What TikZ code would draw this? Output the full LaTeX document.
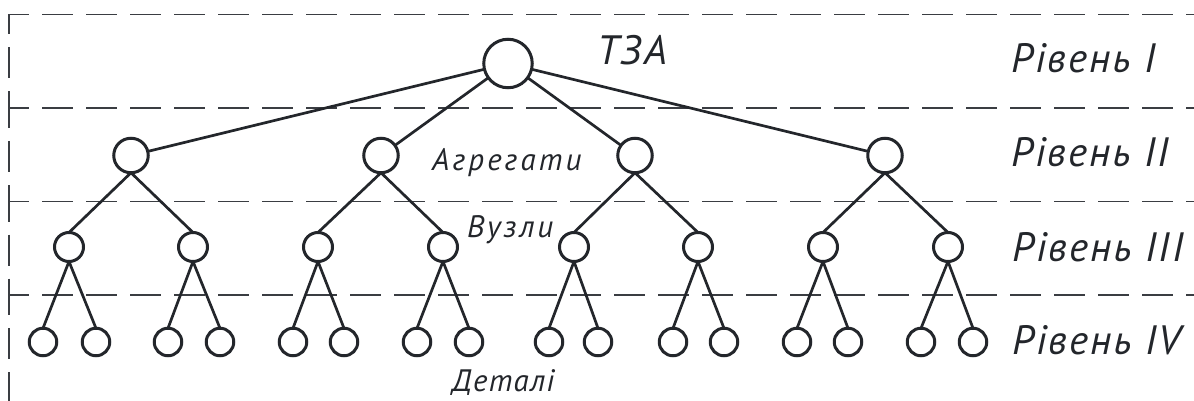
\documentclass[tikz,border=0pt]{standalone}
\usepackage{fontspec}
\setmainfont{PT Sans}
\definecolor{inkc}{HTML}{23262B}
\definecolor{gridc}{HTML}{3A3D42}
\begin{document}
\begin{tikzpicture}[x=1pt,y=-1pt,
  ring/.style={circle, draw=inkc, line width=3pt, inner sep=0pt, outer sep=0pt},
  cA/.style={ring, minimum size=48.5pt},
  cB/.style={ring, minimum size=34.5pt},
  cC/.style={ring, minimum size=29pt},
  cD/.style={ring, minimum size=27.5pt},
  edge/.style={draw=inkc, line width=2.7pt},
  gridline/.style={draw=gridc, line width=1.1pt, dash pattern=on 31pt off 13pt, dash phase=11pt},
  lvl/.style={font=\fontsize{41}{41}\selectfont\itshape\addfontfeatures{LetterSpace=5}, text=inkc, anchor=base west, inner sep=0pt},
  lab/.style={font=\fontsize{31}{31}\selectfont\itshape\addfontfeatures{LetterSpace=#1}, text=inkc, anchor=base west, inner sep=0pt}]
\useasboundingbox (0,0) rectangle (1194,401);
% grid
\foreach \yy in {14.5,108,201.5,295} {\draw[gridline] (9,\yy) -- (1194,\yy);}
\draw[gridline] (9,14.5) -- (9,108);
\draw[gridline] (9,108) -- (9,201.5);
\draw[gridline] (9,201.5) -- (9,295);
\draw[gridline] (9,295) -- (9,401);
% level 1
\node[cA] (a) at (508,63.5) {};
% level 2
\foreach \n/\x in {b1/131,b2/381,b3/635,b4/885} {
  \node[cB] (\n) at (\x,155.5) {};
  \draw[edge] (a) -- (\n);
}
% level 3
\foreach \n/\x/\pp in {c1/69/b1,c2/193/b1,c3/318/b2,c4/443/b2,c5/574/b3,c6/698/b3,c7/823/b4,c8/948/b4} {
  \node[cC] (\n) at (\x,247) {};
  \draw[edge] (\pp.south) -- (\n.north);
}
% level 4
\foreach \n/\x/\pp in {d1/43/c1,d2/96/c1,d3/168/c2,d4/220/c2,d5/293/c3,d6/344/c3,d7/417/c4,d8/469/c4,d9/549/c5,d10/598/c5,d11/673/c6,d12/724/c6,d13/797/c7,d14/848/c7,d15/921/c8,d16/973/c8} {
  \node[cD] (\n) at (\x,342) {};
  \draw[edge] (\pp.south) -- (\n.north);
}
% labels
\node[lvl] (tza) at (597,65) {ТЗА};
\node[lvl] (r1) at (1011,73) {Рівень I};
\node[lvl] (r2) at (1011,167) {Рівень II};
\node[lvl] (r3) at (1012,261) {Рівень III};
\node[lvl] (r4) at (1012,354) {Рівень IV};
\node[lab=10] (agr) at (432,170) {Агрегати};
\node[lab=9] (vuz) at (467,237) {Вузли};
\node[lab=4] (det) at (452,391) {Деталі};
\end{tikzpicture}
\end{document}
